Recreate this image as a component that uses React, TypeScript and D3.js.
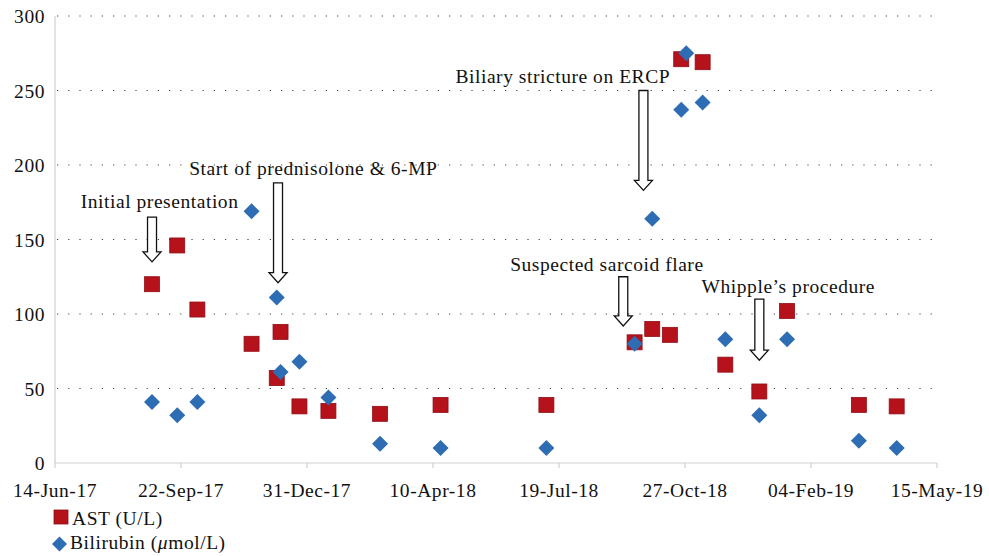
import React from "react";
import * as d3 from "d3";

const xTickLabels = ["14-Jun-17", "22-Sep-17", "31-Dec-17", "10-Apr-18", "19-Jul-18", "27-Oct-18", "04-Feb-19", "15-May-19"];
const xTickDates = ["2017-06-14", "2017-09-22", "2017-12-31", "2018-04-10", "2018-07-19", "2018-10-27", "2019-02-04", "2019-05-15"];
const yTicks = [0, 50, 100, 150, 200, 250, 300];

const astDates = ["2017-08-30", "2017-09-19", "2017-10-05", "2017-11-17", "2017-12-07", "2017-12-10", "2017-12-25", "2018-01-17", "2018-02-27", "2018-04-16", "2018-07-09", "2018-09-17", "2018-10-01", "2018-10-15", "2018-10-24", "2018-11-10", "2018-11-28", "2018-12-25", "2019-01-16", "2019-03-14", "2019-04-13"];
const astValues = [120, 146, 103, 80, 57, 88, 38, 35, 33, 39, 39, 81, 90, 86, 271, 269, 66, 48, 102, 39, 38];

const biliDates = ["2017-08-30", "2017-09-19", "2017-10-05", "2017-11-17", "2017-12-07", "2017-12-10", "2017-12-25", "2018-01-17", "2018-02-27", "2018-04-16", "2018-07-09", "2018-09-17", "2018-10-01", "2018-10-24", "2018-10-28", "2018-11-10", "2018-11-28", "2018-12-25", "2019-01-16", "2019-03-14", "2019-04-13"];
const biliValues = [41, 32, 41, 169, 111, 61, 68, 44, 13, 10, 10, 80, 164, 237, 275, 242, 83, 32, 83, 15, 10];

const annLabels = ["Initial presentation", "Start of prednisolone & 6-MP", "Biliary stricture on ERCP", "Suspected sarcoid flare", "Whipple\u2019s procedure"];
const annArrowDates = ["2017-08-30", "2017-12-08", "2018-09-24", "2018-09-08", "2018-12-25"];
const annArrowTop = [165, 188, 250, 125, 110];
const annArrowTip = [135, 121, 183, 92, 69];
const annTextDates = ["2017-09-05", "2018-01-05", "2018-07-22", "2018-08-26", "2019-01-17"];
const annTextValues = [171, 193, 255, 129, 114];

const parse = d3.utcParse("%Y-%m-%d");

function T(props: any) {
  const { children, ...rest } = props;
  return (
    <text {...rest} fontSize={19.5} fill="#111" style={{ fontFamily: '"Liberation Serif"' }} letterSpacing="0.55">
      {children}
    </text>
  );
}

export default function App() {
  const W = 989, H = 556;
  const left = 55, right = 937, top = 16, bottom = 463;
  const x = d3.scaleUtc().domain([parse(xTickDates[0])!, parse(xTickDates[xTickDates.length - 1])!]).range([left, right]);
  const y = d3.scaleLinear().domain([0, 300]).range([bottom, top]);
  const red = "#B5121B";
  const blue = "#2E6DB4";
  const sq = 15;
  const dm = 8;

  const arrow = (cx: number, y0: number, y1: number) => {
    const sw = 4.5, hw = 9, hh = 10;
    return `M${cx - sw},${y0} L${cx + sw},${y0} L${cx + sw},${y1 - hh} L${cx + hw},${y1 - hh} L${cx},${y1} L${cx - hw},${y1 - hh} L${cx - sw},${y1 - hh} Z`;
  };

  return (
    <svg width={W} height={H} style={{ position: "absolute", left: 0, top: 0, background: "#fff" }}>
      {yTicks.filter((t) => t > 0).map((t) => (
        <line key={t} x1={left + 2} x2={right} y1={y(t)} y2={y(t)} stroke="#444" strokeWidth={1.2} strokeDasharray="1.2,10" />
      ))}
      <line x1={left} x2={left} y1={top} y2={bottom} stroke="#cfcfcf" strokeWidth={1.2} />
      <line x1={left} x2={right} y1={bottom} y2={bottom} stroke="#cfcfcf" strokeWidth={1.2} />
      {xTickDates.map((d) => (
        <line key={d} x1={x(parse(d)!)} x2={x(parse(d)!)} y1={bottom} y2={bottom + 5} stroke="#cfcfcf" strokeWidth={1.2} />
      ))}
      {yTicks.map((t) => (
        <T key={t} x={45} y={y(t) + 7} textAnchor="end">{t}</T>
      ))}
      {xTickDates.map((d, i) => (
        <T key={d} x={x(parse(d)!)} y={bottom + 34} textAnchor="middle">{xTickLabels[i]}</T>
      ))}
      {astDates.map((d, i) => (
        <rect key={"a" + i} x={x(parse(d)!) - sq / 2} y={y(astValues[i]) - sq / 2} width={sq} height={sq} fill={red} stroke="#8f0f16" strokeWidth={0.8} />
      ))}
      {biliDates.map((d, i) => {
        const cx = x(parse(d)!), cy = y(biliValues[i]);
        return <path key={"b" + i} d={`M${cx},${cy - dm} L${cx + dm},${cy} L${cx},${cy + dm} L${cx - dm},${cy} Z`} fill={blue} />;
      })}
      {annLabels.map((l, i) => {
        const ax = x(parse(annArrowDates[i])!);
        return (
          <g key={l}>
            <path d={arrow(ax, y(annArrowTop[i]), y(annArrowTip[i]))} fill="#fff" stroke="#111" strokeWidth={1.3} />
            <T x={x(parse(annTextDates[i])!)} y={y(annTextValues[i])} textAnchor="middle">{l}</T>
          </g>
        );
      })}
      <rect x={54} y={510} width={14} height={14} fill={red} stroke="#8f0f16" strokeWidth={0.8} />
      <T x={72} y={525}>AST (U/L)</T>
      <path d={`M${59.5},${536.5} L${67},${544} L${59.5},${551.5} L${52},${544} Z`} fill={blue} />
      <T x={70} y={549}>Bilirubin (<tspan fontStyle="italic">μ</tspan>mol/L)</T>
    </svg>
  );
}
